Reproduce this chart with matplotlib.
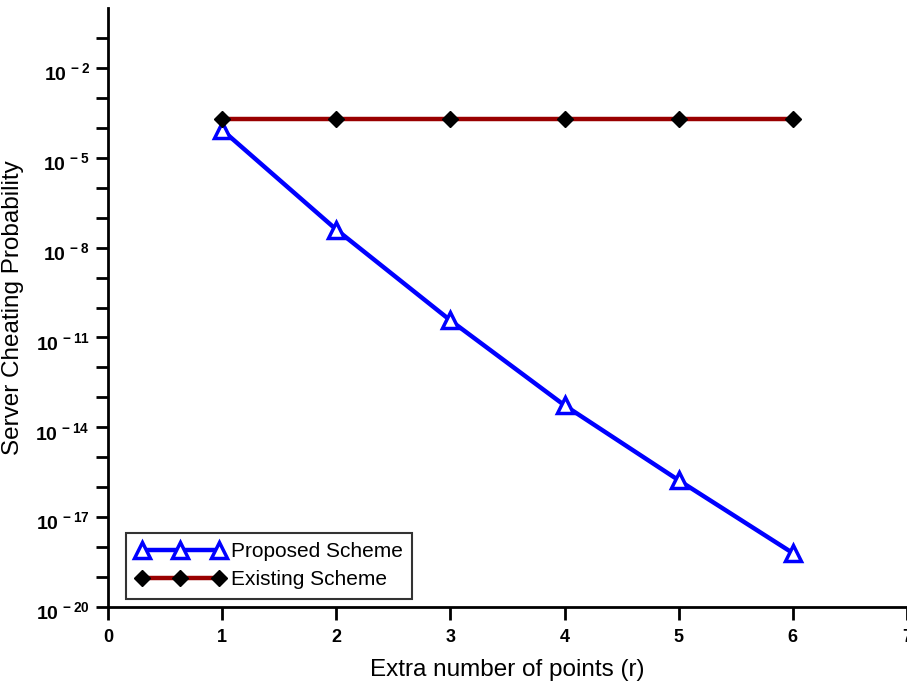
import matplotlib
matplotlib.use("Agg")
import matplotlib.pyplot as plt
import matplotlib.transforms as mtransforms
from matplotlib.ticker import FixedLocator, FixedFormatter, NullLocator

plt.rcParams['font.family'] = ['Liberation Sans', 'DejaVu Sans']
plt.rcParams['mathtext.fontset'] = 'custom'
plt.rcParams['mathtext.rm'] = 'Liberation Sans:bold'
plt.rcParams['mathtext.bf'] = 'Liberation Sans:bold'

# --- data
r = [1, 2, 3, 4, 5, 6]
proposed = [8.5e-5, 4.0e-8, 3.7e-11, 5.4e-14, 1.7e-16, 6.3e-19]
existing = [2.0e-4, 2.0e-4, 2.0e-4, 2.0e-4, 2.0e-4, 2.0e-4]
x_ticks = [0, 1, 2, 3, 4, 5, 6, 7]
y_label_exps = [-2, -5, -8, -11, -14, -17, -20]

W, H = 907, 684
fig = plt.figure(figsize=(W / 100, H / 100), dpi=100)
ax = fig.add_axes([108 / W, 77 / H, 799 / W, 599 / H])

ax.plot(r, proposed, color='#0000ff', lw=3.2, marker='^', ms=11,
        mfc='white', mec='#0000ff', mew=2.5, label='Proposed Scheme')
ax.plot(r, existing, color='#990000', lw=3.2, marker='D', ms=8,
        mfc='black', mec='black', label='Existing Scheme')

ax.set_yscale('log')
ax.set_xlim(0, 7)
ax.set_ylim(1e-20, 1e0)

ax.xaxis.set_major_locator(FixedLocator(x_ticks))
ax.xaxis.set_major_formatter(FixedFormatter([str(t) for t in x_ticks]))
ax.yaxis.set_major_locator(FixedLocator([10.0 ** e for e in range(-20, 0)]))
ax.yaxis.set_major_formatter(FixedFormatter(
    [r'$10^{\,%d}$' % e if e in y_label_exps else '' for e in range(-20, 0)]))
ax.yaxis.set_minor_locator(NullLocator())

for s in ['top', 'right']:
    ax.spines[s].set_visible(False)
for s in ['left', 'bottom']:
    ax.spines[s].set_linewidth(2)

ax.tick_params(axis='both', direction='out', length=9, width=2)
ax.tick_params(axis='x', labelsize=13, pad=7)
ax.tick_params(axis='y', labelsize=14, pad=4)
for lbl in ax.get_xticklabels():
    lbl.set_fontweight('bold')

# the reference puts the "10" a little below the tick, exponent beside it
shift = mtransforms.ScaledTranslation(0, -4 / 100, fig.dpi_scale_trans)
for lbl in ax.get_yticklabels():
    lbl.set_transform(lbl.get_transform() + shift)

ax.set_xlabel('Extra number of points (r)', fontsize=17.5, labelpad=9)
ax.set_ylabel('Server Cheating Probability', fontsize=17.5, labelpad=8)

leg = ax.legend(loc='lower left', numpoints=3, fontsize=15, frameon=True,
                fancybox=False, edgecolor='black', borderaxespad=0.4,
                handlelength=4.3, handletextpad=0.3, borderpad=0.45,
                labelspacing=0.45, bbox_to_anchor=(0.012, 0.0))
leg.get_frame().set_linewidth(1.5)

fig.savefig('out.png', dpi=100)
